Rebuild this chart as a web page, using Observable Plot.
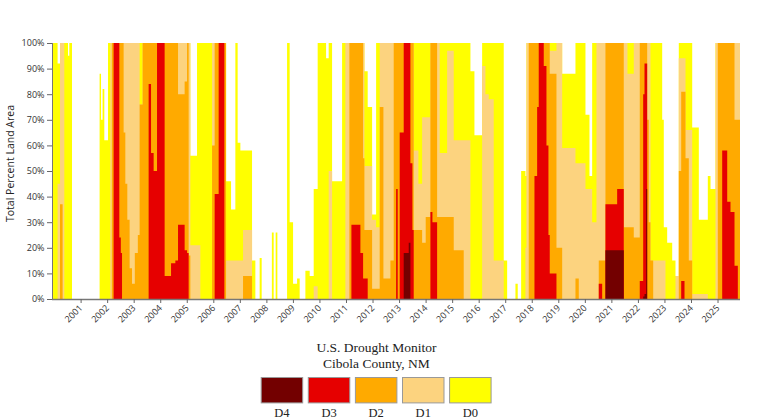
<!DOCTYPE html>
<html>
<head>
<meta charset="utf-8">
<script src="https://cdn.jsdelivr.net/npm/d3@7/dist/d3.min.js"></script>
<script src="https://cdn.jsdelivr.net/npm/@observablehq/plot@0.6/dist/plot.umd.min.js"></script>
<style>
  html, body { margin: 0; padding: 0; background: #fff; }
  #chart { width: 757px; }
  svg { display: block; }
</style>
</head>
<body>
<div id="chart"></div>
<script>
// Week (decimal year) at which each level change starts
const weeks = [
  2000.035,2000.246,2000.337,2000.435,2000.499,2000.638,2000.687,2000.789,
  2001.829,2001.882,2001.942,2002.006,2002.146,2002.233,2002.289,2002.357,
  2002.572,2002.628,2002.674,2002.734,2002.798,2002.873,2002.960,2003.050,
  2003.156,2003.269,2003.337,2003.450,2003.676,2003.767,2003.865,2003.993,
  2004.279,2004.521,2004.683,2004.784,2005.033,2005.124,2005.184,2005.248,
  2005.500,2005.625,2006.066,2006.164,2006.315,2006.530,2006.594,2006.782,
  2006.944,2007.031,2007.133,2007.234,2007.573,2007.698,2007.860,2007.936,
  2008.320,2008.388,2008.463,2008.527,2008.893,2008.991,2009.119,2009.270,
  2009.368,2009.583,2009.745,2009.896,2010.046,2010.363,2010.461,2010.589,
  2010.966,2011.090,2011.241,2011.317,2011.656,2011.758,2011.807,2011.931,
  2012.097,2012.248,2012.383,2012.523,2012.787,2012.911,2013.002,2013.062,
  2013.137,2013.288,2013.477,2013.540,2013.616,2013.665,2013.842,2013.982,
  2014.117,2014.294,2014.370,2014.547,2014.645,2014.924,2015.173,2015.549,
  2015.802,2015.953,2016.243,2016.367,2016.492,2016.680,2017.057,2017.186,
  2017.498,2017.585,2017.713,2017.875,2017.913,2018.000,2018.215,2018.316,
  2018.376,2018.565,2018.667,2018.742,2018.791,2019.044,2019.259,2019.760,
  2019.885,2020.137,2020.288,2020.389,2020.551,2020.638,2020.766,2020.890,
  2021.331,2021.580,2021.720,2021.957,2022.183,2022.312,2022.361,2022.425,
  2022.462,2022.523,2022.587,2022.689,2023.028,2023.088,2023.152,2023.216,
  2023.405,2023.529,2023.654,2023.744,2023.869,2023.907,2024.031,2024.159,
  2024.408,2024.747,2024.849,2025.037,2025.124,2025.289,2025.478,2025.602,
  2025.753,2025.878,2025.960
];
// Cumulative percent of area in D0-D4, D1-D4, D2-D4, D3-D4, D4
const d0 = [
  100,92,100,100,100,95,100,0,
  88,70,82,62,100,100,100,100,
  100,100,100,100,100,100,100,100,
  100,100,100,100,100,100,100,100,
  100,100,100,100,100,100,100,56,
  100,100,100,100,100,100,46,35,
  100,61,58,58,15,0,16,0,
  26,0,26,0,100,30,6,8,
  0,11,9,43,100,94,100,46,
  100,100,100,100,100,100,89,75,
  33,100,100,100,100,100,100,100,
  100,100,100,100,100,100,100,100,
  100,100,100,100,100,100,100,100,
  89,64,100,100,100,100,15,0,
  6,0,50,48,100,100,100,100,
  100,100,100,100,100,100,88,100,
  100,72,48,100,100,100,100,100,
  100,100,100,100,100,100,100,100,
  100,100,100,100,70,28,28,22,
  15,9,100,100,100,100,100,67,
  31,48,43,100,100,100,100,100,
  100,100,100
];
const d1 = [
  0,45,100,100,0,0,0,0,
  0,0,0,0,0,100,100,100,
  100,100,100,100,100,100,100,100,
  100,100,76,100,100,100,100,100,
  100,100,100,100,100,100,100,21,
  21,0,100,100,100,100,15,15,
  15,15,15,27,0,0,0,0,
  0,0,0,0,0,0,0,0,
  0,0,0,5,0,0,50,0,
  0,100,100,100,100,100,52,52,
  31,28,100,100,100,100,100,100,
  100,100,100,100,100,58,45,71,
  71,100,100,100,57,97,62,62,
  0,0,91,80,78,15,0,0,
  0,0,0,20,100,100,100,100,
  100,100,100,100,97,100,59,53,
  53,43,43,30,100,100,100,100,
  100,100,88,100,100,100,100,100,
  100,100,15,15,15,15,0,0,
  0,9,94,94,94,66,66,2,
  2,0,0,100,100,100,100,100,
  100,100,100
];
const d2 = [
  0,0,37,0,0,0,0,0,
  0,0,0,0,0,0,100,100,
  100,100,100,65,45,31,12,6,
  18,25,76,100,100,100,100,100,
  100,100,100,80,85,100,17,0,
  0,0,60,100,100,100,0,0,
  0,0,0,9,0,0,0,0,
  0,0,0,0,0,0,0,0,
  0,0,0,0,0,0,0,0,
  0,0,100,100,100,55,27,27,
  4,4,75,8,15,100,100,100,
  100,100,100,100,100,27,27,22,
  32,100,100,32,32,32,19,0,
  0,0,0,0,0,0,0,0,
  0,0,0,0,0,100,100,100,
  100,100,100,100,88,20,0,8,
  0,0,0,0,0,15,15,100,
  100,28,28,24,100,100,100,100,
  70,30,15,0,0,0,0,0,
  0,0,50,81,81,55,15,0,
  0,0,0,0,100,100,100,100,
  70,70,70
];
const d3v = [
  0,0,0,0,0,0,0,0,
  0,0,0,0,0,0,0,100,
  24,18,0,0,0,0,0,0,
  0,0,0,0,84,57,50,100,
  9,14,15,29,19,18,0,0,
  0,0,0,41,100,0,0,0,
  0,0,0,0,0,0,0,0,
  0,0,0,0,0,0,0,0,
  0,0,0,0,0,0,0,0,
  0,0,0,29,18,8,8,0,
  0,0,0,0,0,0,43,0,
  65,100,100,53,27,0,0,0,
  0,34,30,0,0,0,0,0,
  0,0,0,0,0,0,0,0,
  0,0,0,0,0,0,48,75,
  100,91,60,25,10,0,0,0,
  0,0,0,0,0,6,0,37,
  43,0,0,0,7,80,92,92,
  0,0,0,0,0,0,0,0,
  0,0,0,7,0,0,0,0,
  0,0,0,0,0,58,38,34,
  13,0,0
];
const d4 = [
  0,0,0,0,0,0,0,0,
  0,0,0,0,0,0,0,0,
  0,0,0,0,0,0,0,0,
  0,0,0,0,0,0,0,0,
  0,0,0,0,0,0,0,0,
  0,0,0,0,0,0,0,0,
  0,0,0,0,0,0,0,0,
  0,0,0,0,0,0,0,0,
  0,0,0,0,0,0,0,0,
  0,0,0,0,0,0,0,0,
  0,0,0,0,0,0,0,0,
  0,18,22,0,0,0,0,0,
  0,0,0,0,0,0,0,0,
  0,0,0,0,0,0,0,0,
  0,0,0,0,0,0,0,0,
  0,0,0,0,0,0,0,0,
  0,0,0,0,0,0,0,19,
  19,0,0,0,0,1,2,43,
  0,0,0,0,0,0,0,0,
  0,0,0,0,0,0,0,0,
  0,0,0,0,0,0,0,0,
  0,0,0
];

const categories = ["D4", "D3", "D2", "D1", "D0"];
const colors = {D0: "#FFFF00", D1: "#FCD37F", D2: "#FFAA00", D3: "#E60000", D4: "#730000"};
const yearTicks = [2001,2002,2003,2004,2005,2006,2007,2008,2009,2010,2011,2012,2013,
  2014,2015,2016,2017,2018,2019,2020,2021,2022,2023,2024,2025];
const pctTicks = [0,10,20,30,40,50,60,70,80,90,100];
const titleLines = ["U.S. Drought Monitor", "Cibola County, NM"];
const yTitle = "Total Percent Land Area";

const rows = weeks.map((t, i) => ({t, D0: d0[i], D1: d1[i], D2: d2[i], D3: d3v[i], D4: d4[i]}));
const drawOrder = ["D0", "D1", "D2", "D3", "D4"];

const plot = Plot.plot({
  width: 757,
  height: 335,
  marginLeft: 52,
  marginRight: 17,
  marginTop: 43,
  marginBottom: 36,
  style: {fontFamily: "'Open Sans', sans-serif", fontSize: "9px", color: "#333", background: "#fff"},
  x: {type: "linear", domain: [weeks[0], weeks[weeks.length - 1]]},
  y: {domain: [0, 100]},
  marks: [
    ...drawOrder.map(k => Plot.areaY(rows, {x: "t", y1: 0, y2: k, fill: colors[k], curve: "step-after"})),
    Plot.ruleY([0], {stroke: "#777", strokeWidth: 1.3}),
    Plot.ruleX([weeks[0]], {stroke: "#777", strokeWidth: 1}),
    Plot.axisX({ticks: yearTicks, tickFormat: d => String(d), tickRotate: -45, tickSize: 4, tickPadding: 3, dx: 3, label: null, stroke: "#666"}),
    Plot.axisY({ticks: pctTicks, tickFormat: d => d + "%", tickSize: 5, tickPadding: 3, label: null, stroke: "#666"}),
    Plot.text([yTitle], {frameAnchor: "left", textAnchor: "middle", dx: -42, dy: -8, rotate: -90, fontSize: 10.5, fill: "#222", text: d => d})
  ]
});
document.getElementById("chart").appendChild(plot);

// Title and legend below the plot
const NS = "http://www.w3.org/2000/svg";
function el(name, attrs, parent) {
  const e = document.createElementNS(NS, name);
  for (const k in attrs) e.setAttribute(k, attrs[k]);
  parent.appendChild(e);
  return e;
}
const foot = document.createElementNS(NS, "svg");
foot.setAttribute("width", 757);
foot.setAttribute("height", 85);
foot.style.fontFamily = "'Liberation Serif', 'Times New Roman', serif";
document.getElementById("chart").appendChild(foot);
titleLines.forEach((line, i) => {
  const t = el("text", {x: 376.5, y: 16.5 + i * 16.6, "text-anchor": "middle", "font-size": 13.5, fill: "#222"}, foot);
  t.textContent = line;
});
const boxW = 42.5, boxH = 25.4, step = 47.1, x0 = 260.7;
categories.forEach((c, i) => {
  const gx = x0 + i * step;
  el("rect", {x: gx + 0.5, y: 42.5, width: boxW - 1, height: boxH, fill: colors[c], stroke: "#999", "stroke-width": 1}, foot);
  const t = el("text", {x: gx + boxW / 2, y: 82.3, "text-anchor": "middle", "font-size": 12.5, fill: "#222"}, foot);
  t.textContent = c;
});
</script>
</body>
</html>
